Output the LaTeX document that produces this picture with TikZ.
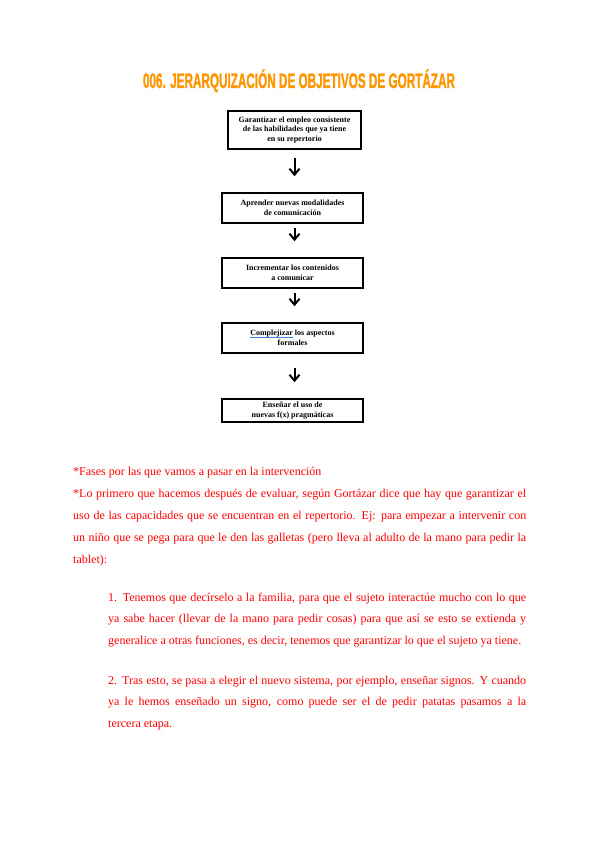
\documentclass[tikz,border=0pt]{standalone}
\usepackage{fontspec}
\usepackage{calc}
\setmainfont{Liberation Serif}
\newfontfamily\titlefont[FakeBold=1.5]{Liberation Sans}
\usetikzlibrary{arrows.meta}
\definecolor{titleorange}{HTML}{FF9600}
\definecolor{textred}{HTML}{FF0000}
\definecolor{squiggle}{HTML}{4A7FD4}
\newcommand{\jline}[2]{\makebox[#1][s]{#2}}
\newlength{\squigwd}
\newcommand{\squig}[1]{\settowidth{\squigwd}{#1}\leavevmode\rlap{\textcolor{squiggle}{\rule[-1.8pt]{\squigwd}{0.7pt}}}#1}
\begin{document}
\begin{tikzpicture}[x=1pt,y=-1pt,
  stepbox/.style={draw=black, line width=1.5pt, inner sep=0pt, align=center,
    font=\fontsize{8}{9.5}\selectfont\bfseries},
  flow/.style={-{Straight Barb[length=6pt,width=10pt,line width=2pt]}, line width=2pt},
  bodyline/.style={anchor=base west, inner sep=0pt, text=textred,
    font=\fontsize{12}{14}\selectfont}
]
\useasboundingbox (0,0) rectangle (600,848);
\fill[white] (0,0) rectangle (600,848);

\node[anchor=base, inner sep=0pt, text=titleorange] (title) at (299,88)
  {\resizebox{312pt}{\height}{\titlefont\bfseries\fontsize{21}{21}\selectfont 006. JERARQUIZACIÓN DE OBJETIVOS DE GORTÁZAR}};

\node[stepbox, minimum width=133pt, minimum height=38pt] (b1) at (294.5,130)
  {Garantizar el empleo consistente\\de las habilidades que ya tiene\\en su repertorio};
\node[stepbox, minimum width=141pt, minimum height=30pt] (b2) at (292.5,208)
  {Aprender nuevas modalidades\\de comunicación};
\node[stepbox, minimum width=141pt, minimum height=30pt] (b3) at (292.5,273)
  {Incrementar los contenidos\\a comunicar};
\node[stepbox, minimum width=141pt, minimum height=30pt] (b4) at (292.5,338)
  {\squig{Complejizar} los aspectos\\formales};
\node[stepbox, minimum width=141pt, minimum height=23pt] (b5) at (292.5,410.5)
  {Enseñar el uso de\\nuevas f(x) pragmáticas};

\draw[flow, shorten <=8pt, shorten >=16pt] (b1.south) -- (b1.south |- b2.north);
\draw[flow, shorten <=4pt, shorten >=16pt] ([xshift=2pt]b2.south) -- ([xshift=2pt]b2.south |- b3.north);
\draw[flow, shorten <=4pt, shorten >=16pt] ([xshift=2pt]b3.south) -- ([xshift=2pt]b3.south |- b4.north);
\draw[flow, shorten <=14pt, shorten >=16pt] ([xshift=2pt]b4.south) -- ([xshift=2pt]b4.south |- b5.north);

\node[bodyline] (l1) at (73,475) {*Fases por las que vamos a pasar en la intervención};
\node[bodyline] (l2) at (73,497) {\jline{453pt}{*Lo primero que hacemos después de evaluar, según Gortázar dice que hay que garantizar el}};
\node[bodyline] (l3) at (73,519) {\jline{453pt}{uso de las capacidades que se encuentran en el repertorio. Ej: para empezar a intervenir con}};
\node[bodyline] (l4) at (73,541) {\jline{453pt}{un niño que se pega para que le den las galletas (pero lleva al adulto de la mano para pedir la}};
\node[bodyline] (l5) at (73,563) {tablet):};

\node[bodyline] (p1a) at (108,601) {\jline{418pt}{1. Tenemos que decírselo a la familia, para que el sujeto interactúe mucho con lo que}};
\node[bodyline] (p1b) at (108,622) {\jline{418pt}{ya sabe hacer (llevar de la mano para pedir cosas) para que así se esto se extienda y}};
\node[bodyline] (p1c) at (108,644) {generalice a otras funciones, es decir, tenemos que garantizar lo que el sujeto ya tiene.};

\node[bodyline] (p2a) at (108,684) {\jline{418pt}{2. Tras esto, se pasa a elegir el nuevo sistema, por ejemplo, enseñar signos. Y cuando}};
\node[bodyline] (p2b) at (108,705) {\jline{418pt}{ya le hemos enseñado un signo, como puede ser el de pedir patatas pasamos a la}};
\node[bodyline] (p2c) at (108,727) {tercera etapa.};
\end{tikzpicture}
\end{document}
